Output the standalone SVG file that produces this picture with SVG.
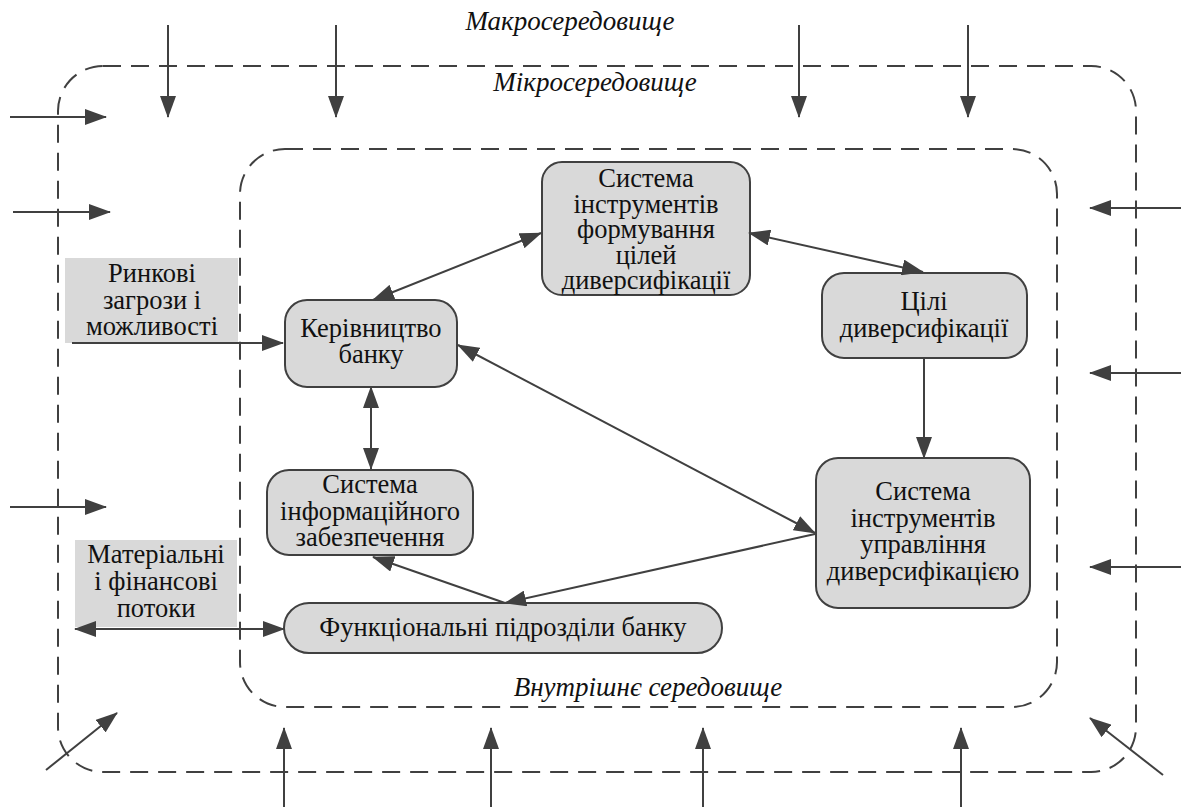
<svg xmlns="http://www.w3.org/2000/svg" width="1181" height="807" viewBox="0 0 1181 807">
<style>
.env{fill:none;stroke:#404040;stroke-width:2;stroke-dasharray:18 10}
.node{fill:#d9d9d9;stroke:#404040;stroke-width:2}
.lbl{fill:#d9d9d9;stroke:none}
.t{font-family:'Liberation Serif','Times New Roman',serif;font-size:26.5px;fill:#111;text-anchor:middle}
.it{font-family:'Liberation Serif','Times New Roman',serif;font-size:27px;font-style:italic;fill:#111;text-anchor:middle}
.c{fill:none;stroke:#404040;stroke-width:2}
</style>
<defs>
<marker id="ah" markerUnits="userSpaceOnUse" markerWidth="22" markerHeight="16" viewBox="0 0 22 16" refX="21" refY="8" orient="auto-start-reverse">
<path d="M0,0 L22,8 L0,16 z" fill="#404040"/>
</marker>
</defs>
<rect fill="#fff" width="1181" height="807"/>
<g id="environment">
<rect class="env" x="58" y="66" width="1078" height="706" rx="45" ry="45"/>
<rect class="env" x="240" y="149" width="817" height="558" rx="45" ry="45"/>
<text class="it" x="570" y="30">Макросередовище</text>
<text class="it" x="595" y="91">Мікросередовище</text>
<text class="it" x="648" y="696">Внутрішнє середовище</text>
</g>
<g id="lbl-market">
<rect class="lbl" x="65" y="258" width="173" height="85"/>
<text class="t" x="152" y="282">Ринкові</text>
<text class="t" x="152" y="309">загрози і</text>
<text class="t" x="152" y="335">можливості</text>
</g>
<g id="lbl-flows">
<rect class="lbl" x="75" y="540" width="162" height="87"/>
<text class="t" x="156" y="563">Матеріальні</text>
<text class="t" x="156" y="590">і фінансові</text>
<text class="t" x="156" y="617">потоки</text>
</g>
<g id="n-form">
<rect class="node" x="542" y="162" width="208" height="133" rx="20" ry="20"/>
<text class="t" x="646" y="187">Система</text>
<text class="t" x="646" y="212.5">інструментів</text>
<text class="t" x="646" y="238">формування</text>
<text class="t" x="646" y="263.5">цілей</text>
<text class="t" x="646" y="289">диверсифікації</text>
</g>
<g id="n-goals">
<rect class="node" x="822" y="273" width="205" height="85" rx="22" ry="22"/>
<text class="t" x="924" y="310">Цілі</text>
<text class="t" x="924" y="337">диверсифікації</text>
</g>
<g id="n-mgmt">
<rect class="node" x="285" y="300" width="172" height="87" rx="22" ry="22"/>
<text class="t" x="371" y="337">Керівництво</text>
<text class="t" x="371" y="363">банку</text>
</g>
<g id="n-info">
<rect class="node" x="267" y="470" width="206" height="85" rx="22" ry="22"/>
<text class="t" x="370" y="493">Система</text>
<text class="t" x="370" y="520">інформаційного</text>
<text class="t" x="370" y="546">забезпечення</text>
</g>
<g id="n-tools">
<rect class="node" x="816" y="458" width="214" height="150" rx="22" ry="22"/>
<text class="t" x="923" y="500">Система</text>
<text class="t" x="923" y="527">інструментів</text>
<text class="t" x="923" y="553">управління</text>
<text class="t" x="923" y="580">диверсифікацією</text>
</g>
<g id="n-func">
<rect class="node" x="284" y="603" width="438" height="50" rx="25" ry="25"/>
<text class="t" x="503" y="636">Функціональні підрозділи банку</text>
</g>
<g id="connectors" class="c" marker-end="url(#ah)">
<line x1="72" y1="343" x2="283" y2="343"/>
<line x1="75" y1="629" x2="284" y2="629" marker-start="url(#ah)"/>
<line x1="373" y1="300" x2="541" y2="233" marker-start="url(#ah)"/>
<line x1="749" y1="233" x2="923" y2="272" marker-start="url(#ah)"/>
<line x1="924" y1="359" x2="924" y2="458"/>
<line x1="458" y1="345" x2="815" y2="533" marker-start="url(#ah)"/>
<line x1="371" y1="387" x2="371" y2="469" marker-start="url(#ah)"/>
<line x1="815" y1="534" x2="505" y2="603"/>
<line x1="505" y1="603" x2="373" y2="557"/>
<line x1="168" y1="25" x2="168" y2="117"/>
<line x1="336" y1="25" x2="336" y2="117"/>
<line x1="799" y1="25" x2="799" y2="117"/>
<line x1="968" y1="25" x2="968" y2="117"/>
<line x1="10" y1="117" x2="106" y2="117"/>
<line x1="13" y1="212" x2="110" y2="212"/>
<line x1="10" y1="507" x2="106" y2="507"/>
<line x1="1181" y1="208" x2="1090" y2="208"/>
<line x1="1181" y1="373" x2="1090" y2="373"/>
<line x1="1181" y1="567" x2="1090" y2="567"/>
<line x1="284" y1="807" x2="284" y2="728"/>
<line x1="491" y1="807" x2="491" y2="728"/>
<line x1="703" y1="807" x2="703" y2="728"/>
<line x1="961" y1="807" x2="961" y2="728"/>
<line x1="46" y1="770" x2="117" y2="713"/>
<line x1="1163" y1="775" x2="1090" y2="718"/>
</g>
</svg>
